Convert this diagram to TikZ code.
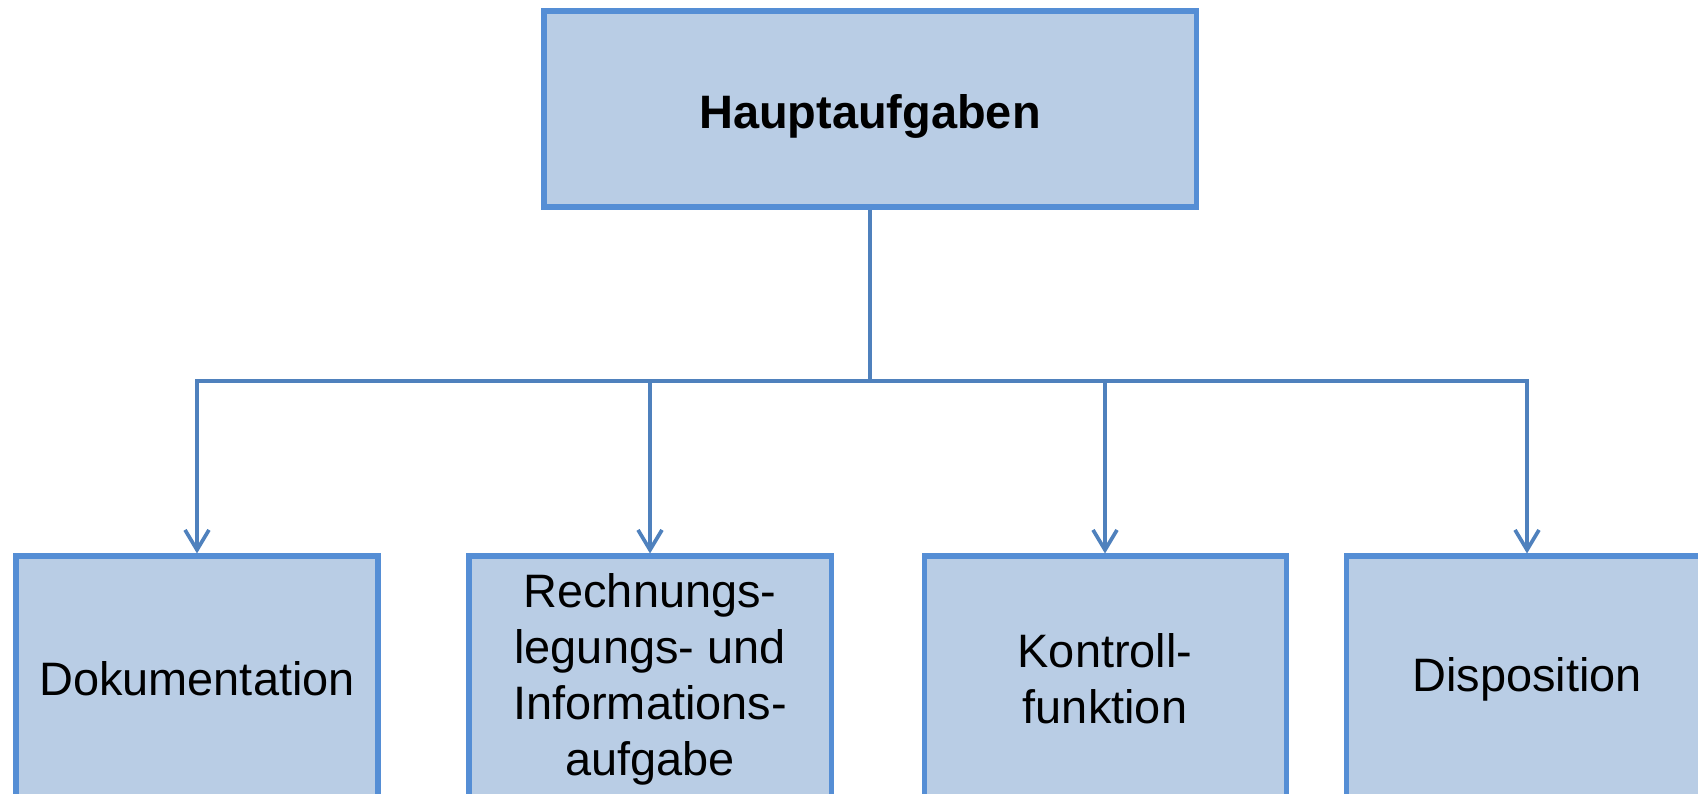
\documentclass[tikz,border=0pt]{standalone}
\usepackage{fontspec}
\setmainfont{Liberation Sans}
\usepackage{xcolor}
\usetikzlibrary{arrows.meta,positioning}
\definecolor{boxfill}{HTML}{B9CDE5}
\definecolor{boxline}{HTML}{558ED5}
\definecolor{wire}{HTML}{4F81BD}
\tikzset{
  task/.style={draw=boxline,fill=boxfill,line width=2.85pt,minimum width=7.24cm,minimum height=#1,
               align=center,inner sep=2pt,font=\fontsize{26.7}{31.9}\selectfont},
  task/.default=4.92cm,
  link/.style={draw=wire,line width=2.1pt},
  tip/.style={link,-{Straight Barb[length=4mm,width=4.8mm,line width=2.1pt]}},
}
\begin{document}
\begin{tikzpicture}
  \useasboundingbox (0,0) rectangle (33.96,-15.88);
  \node[task=3.92cm,minimum width=13.04cm,text height=0.96cm] (haupt) at (17.4,-2.18) {\textbf{Hauptaufgaben}};
  \node[task] (doku) at (3.94,-13.58) {Dokumentation};
  \node[task] (rech) at (13.0,-13.58) {Rechnungs-\\legungs- und\\Informations-\\aufgabe};
  \node[task] (kontr) at (22.1,-13.58) {Kontroll-\\funktion};
  \node[task] (disp) at (30.54,-13.58) {Disposition};
  \coordinate (bar) at (17.4,-7.62);
  \draw[link] (haupt.south) -- (bar);
  \foreach \t in {doku,rech,kontr,disp}
    \draw[tip] (bar) -| (\t.north);
\end{tikzpicture}
\end{document}
